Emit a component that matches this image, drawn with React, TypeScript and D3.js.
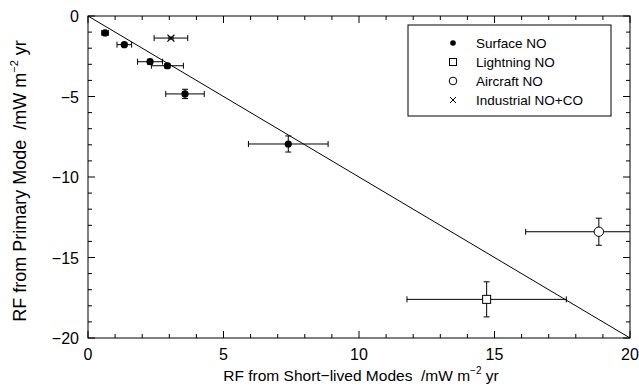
import React from "react";
import * as d3 from "d3";

const surfaceX = [0.63, 1.34, 2.29, 2.93, 3.58, 7.39];
const surfaceY = [-1.05, -1.78, -2.84, -3.09, -4.84, -7.95];
const surfaceXErr = [0.12, 0.27, 0.46, 0.59, 0.71, 1.47];
const surfaceYErr = [0.08, 0.1, 0.15, 0.15, 0.29, 0.5];

const lightningX = [14.71];
const lightningY = [-17.6];
const lightningXErr = [2.94];
const lightningYErr = [1.09];

const aircraftX = [18.85];
const aircraftY = [-13.4];
const aircraftXErr = [2.7];
const aircraftYErr = [0.84];

const industrialX = [3.06];
const industrialY = [-1.37];
const industrialXErr = [0.62];
const industrialYErr = [0.06];

const xTicks = [0, 5, 10, 15, 20];
const yTicks = [0, -5, -10, -15, -20];
const legendLabels = ["Surface NO", "Lightning NO", "Aircraft NO", "Industrial NO+CO"];

const W = 639, H = 390;
const L = 88, R = 630, T = 16, B = 338;

export default function App() {
  const x = d3.scaleLinear().domain([0, 20]).range([L, R]);
  const y = d3.scaleLinear().domain([-20, 0]).range([B, T]);
  const minorX = d3.range(0, 21, 1);
  const minorY = d3.range(-20, 1, 1);
  const fmt = (v: number) => (v < 0 ? "\u2212" + Math.abs(v) : String(v));
  const cap = 3;

  const errBars = (xs: number[], ys: number[], xe: number[], ye: number[], key: string) =>
    xs.map((xv, i) => {
      const cx = x(xv), cy = y(ys[i]);
      const x0 = x(Math.max(0, xv - xe[i])), x1 = x(Math.min(20, xv + xe[i]));
      const y0 = y(ys[i] - ye[i]), y1 = y(ys[i] + ye[i]);
      const showR = xv + xe[i] <= 20;
      return (
        <g key={key + i} stroke="#000" strokeWidth={1} fill="none">
          <line x1={x0} x2={x1} y1={cy} y2={cy} />
          <line x1={x0} x2={x0} y1={cy - cap} y2={cy + cap} />
          {showR && <line x1={x1} x2={x1} y1={cy - cap} y2={cy + cap} />}
          <line x1={cx} x2={cx} y1={y0} y2={y1} />
          <line x1={cx - cap} x2={cx + cap} y1={y0} y2={y0} />
          <line x1={cx - cap} x2={cx + cap} y1={y1} y2={y1} />
        </g>
      );
    });

  const font = "Liberation Sans, Arial, Helvetica, sans-serif";
  const lx = 453, ly0 = 43, ldy = 19;

  return (
    <svg width={W} height={H} style={{ position: "absolute", left: 0, top: 0, whiteSpace: "pre" }} fontFamily={font}>
      <rect width={W} height={H} fill="#fff" />
      <defs>
        <clipPath id="plot">
          <rect x={L} y={T} width={R - L} height={B - T} />
        </clipPath>
      </defs>
      <g stroke="#000" strokeWidth={1}>
        {minorX.map((v) => {
          const len = v % 5 === 0 ? 7 : 4;
          return (
            <g key={"xt" + v}>
              <line x1={x(v)} x2={x(v)} y1={B} y2={B - len} />
              <line x1={x(v)} x2={x(v)} y1={T} y2={T + len} />
            </g>
          );
        })}
        {minorY.map((v) => {
          const len = v % 5 === 0 ? 7 : 4;
          return (
            <g key={"yt" + v}>
              <line x1={L} x2={L + len} y1={y(v)} y2={y(v)} />
              <line x1={R} x2={R - len} y1={y(v)} y2={y(v)} />
            </g>
          );
        })}
      </g>
      <g clipPath="url(#plot)">
        <line x1={x(0)} y1={y(0)} x2={x(20)} y2={y(-20)} stroke="#000" strokeWidth={1} />
        {errBars(surfaceX, surfaceY, surfaceXErr, surfaceYErr, "s")}
        {errBars(lightningX, lightningY, lightningXErr, lightningYErr, "l")}
        {errBars(aircraftX, aircraftY, aircraftXErr, aircraftYErr, "a")}
        {errBars(industrialX, industrialY, industrialXErr, industrialYErr, "i")}
        {surfaceX.map((v, i) => (
          <circle key={"sc" + i} cx={x(v)} cy={y(surfaceY[i])} r={3.6} fill="#000" />
        ))}
        {lightningX.map((v, i) => (
          <rect key={"lr" + i} x={x(v) - 4} y={y(lightningY[i]) - 4} width={8} height={8} fill="#fff" stroke="#000" />
        ))}
        {aircraftX.map((v, i) => (
          <circle key={"ac" + i} cx={x(v)} cy={y(aircraftY[i])} r={4.7} fill="#fff" stroke="#000" />
        ))}
        {industrialX.map((v, i) => {
          const cx = x(v), cy = y(industrialY[i]), s = 3.5;
          return (
            <g key={"ix" + i} stroke="#000" strokeWidth={1.2}>
              <line x1={cx - s} x2={cx + s} y1={cy - s} y2={cy + s} />
              <line x1={cx - s} x2={cx + s} y1={cy + s} y2={cy - s} />
            </g>
          );
        })}
      </g>
      <rect x={L} y={T} width={R - L} height={B - T} fill="none" stroke="#000" strokeWidth={1} />
      {xTicks.map((v) => (
        <text key={"xl" + v} x={x(v)} y={B + 22} fontSize={16} textAnchor="middle">{fmt(v)}</text>
      ))}
      {yTicks.map((v) => (
        <text key={"yl" + v} x={L - 9} y={y(v) + 6} fontSize={16} textAnchor="end">{fmt(v)}</text>
      ))}
      <text x={(L + R) / 2 + 2} y={381} fontSize={15.5} textAnchor="middle" xmlSpace="preserve">
        {"RF from Short\u2212lived Modes  /mW m"}<tspan fontSize={10} dy={-7}>{"\u2212"}2</tspan><tspan dy={7}>{" yr"}</tspan>
      </text>
      <text transform={`translate(26,181) rotate(-90)`} fontSize={18} textAnchor="middle" xmlSpace="preserve">
        {"RF from Primary Mode  /mW m"}<tspan fontSize={11} dy={-8}>{"\u2212"}2</tspan><tspan dy={8}>{" yr"}</tspan>
      </text>
      <rect x={408} y={25} width={203} height={91} fill="#fff" stroke="#000" strokeWidth={1} />
      <circle cx={lx} cy={ly0} r={2.8} fill="#000" />
      <rect x={lx - 3.5} y={ly0 + ldy - 3.5} width={7} height={7} fill="#fff" stroke="#000" />
      <circle cx={lx} cy={ly0 + 2 * ldy} r={3.8} fill="#fff" stroke="#000" />
      <g stroke="#000" strokeWidth={1}>
        <line x1={lx - 3} x2={lx + 3} y1={ly0 + 3 * ldy - 3} y2={ly0 + 3 * ldy + 3} />
        <line x1={lx - 3} x2={lx + 3} y1={ly0 + 3 * ldy + 3} y2={ly0 + 3 * ldy - 3} />
      </g>
      {legendLabels.map((t, i) => (
        <text key={t} x={476} y={ly0 + i * ldy + 5} fontSize={13.5}>{t}</text>
      ))}
    </svg>
  );
}
